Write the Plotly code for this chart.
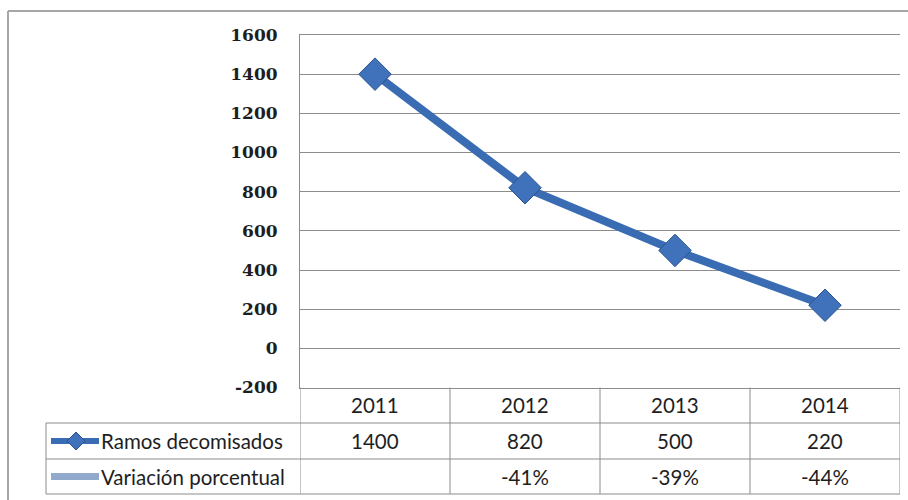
import plotly.graph_objects as go

# ---- data ----
years = ["2011", "2012", "2013", "2014"]
ramos = [1400, 820, 500, 220]
variacion = [None, -41, -39, -44]
series_names = ["Ramos decomisados", "Variación porcentual"]
y_ticks = [-200, 0, 200, 400, 600, 800, 1000, 1200, 1400, 1600]
y_tick_text = [str(v) for v in y_ticks]

W, H = 908, 500
def px(x):
    return x / W
def py(y):
    return 1 - y / H

PLOT_L, PLOT_R, PLOT_T, PLOT_B = 300, 900, 35, 387.5
ROW_Y = [387.5, 423, 459, 494]
TABLE_L = 46
GRID = "#8c8c8c"
LINE_BLUE = "#3a6cb3"
LIGHT_BLUE = "#91a9cc"
TXT = "#1e1e1e"

fig = go.Figure()
fig.add_trace(go.Scatter(
    x=years, y=ramos, mode="lines+markers", name=series_names[0],
    line=dict(color=LINE_BLUE, width=8),
    marker=dict(symbol="diamond", size=25, color="#3f72ba",
                line=dict(color="#2a5290", width=1)),
    showlegend=False, hoverinfo="skip",
))

shapes = []
# outer chart border (top + left)
shapes.append(dict(type="line", xref="paper", yref="paper", x0=px(8), x1=px(908),
                   y0=py(11), y1=py(11), line=dict(color="#a6a6a6", width=2)))
shapes.append(dict(type="line", xref="paper", yref="paper", x0=px(8), x1=px(8),
                   y0=py(11), y1=py(500), line=dict(color="#a6a6a6", width=2)))
# table horizontal lines
for yy in ROW_Y[1:]:
    shapes.append(dict(type="line", xref="paper", yref="paper", x0=px(TABLE_L), x1=px(PLOT_R),
                       y0=py(yy), y1=py(yy), line=dict(color=GRID, width=1)))
# table vertical lines (column boundaries from the category axis)
for k in range(len(years) + 1):
    shapes.append(dict(type="line", xref="x", yref="paper", x0=k - 0.5, x1=k - 0.5,
                       y0=py(ROW_Y[0]), y1=py(ROW_Y[-1]), line=dict(color=GRID, width=1)))
shapes.append(dict(type="line", xref="paper", yref="paper", x0=px(TABLE_L), x1=px(TABLE_L),
                   y0=py(ROW_Y[1]), y1=py(ROW_Y[-1]), line=dict(color=GRID, width=1)))

# legend keys inside the table
ry1 = (ROW_Y[1] + ROW_Y[2]) / 2
ry2 = (ROW_Y[2] + ROW_Y[3]) / 2
shapes.append(dict(type="line", xref="paper", yref="paper", x0=px(51), x1=px(99),
                   y0=py(ry1), y1=py(ry1), line=dict(color=LINE_BLUE, width=6)))
cx, cy, r = 76, ry1, 9
shapes.append(dict(type="path", xref="paper", yref="paper",
                   path=f"M {px(cx - r)} {py(cy)} L {px(cx)} {py(cy - r)} L {px(cx + r)} {py(cy)} L {px(cx)} {py(cy + r)} Z",
                   fillcolor="#3f72ba", line=dict(color="#2a5290", width=1)))
shapes.append(dict(type="line", xref="paper", yref="paper", x0=px(51), x1=px(99),
                   y0=py(ry2), y1=py(ry2), line=dict(color=LIGHT_BLUE, width=7)))

annotations = []
TFONT = dict(family="Lato", size=20.5, color=TXT)
hy = (ROW_Y[0] + ROW_Y[1]) / 2
for i, yr in enumerate(years):
    annotations.append(dict(x=i, xref="x", y=py(hy), yref="paper", text=yr,
                            showarrow=False, font=TFONT, xanchor="center", yanchor="middle"))
    annotations.append(dict(x=i, xref="x", y=py(ry1), yref="paper", text=str(ramos[i]),
                            showarrow=False, font=TFONT, xanchor="center", yanchor="middle"))
    if variacion[i] is not None:
        annotations.append(dict(x=i, xref="x", y=py(ry2), yref="paper", text=f"{variacion[i]}%",
                                showarrow=False, font=TFONT, xanchor="center", yanchor="middle"))
annotations.append(dict(x=px(99), xref="paper", y=py(ry1), yref="paper", text=series_names[0],
                        showarrow=False, font=TFONT, xanchor="left", yanchor="middle"))
annotations.append(dict(x=px(99), xref="paper", y=py(ry2), yref="paper", text=series_names[1],
                        showarrow=False, font=TFONT, xanchor="left", yanchor="middle"))

fig.update_layout(
    width=W, height=H, autosize=False,
    margin=dict(l=0, r=0, t=0, b=0, pad=0, autoexpand=False),
    paper_bgcolor="white", plot_bgcolor="white",
    xaxis=dict(domain=[px(PLOT_L), px(PLOT_R)], type="category", categoryorder="array",
               categoryarray=years, range=[-0.5, 3.5], showticklabels=False, ticks="",
               showgrid=False, zeroline=False, showline=True, mirror=True,
               linecolor=GRID, linewidth=1, automargin=False),
    yaxis=dict(domain=[py(PLOT_B), py(PLOT_T)], range=[-200, 1600],
               tickvals=y_ticks, ticktext=y_tick_text,
               showgrid=True, gridcolor=GRID, gridwidth=1, zeroline=False,
               showline=True, linecolor=GRID, linewidth=1, ticks="",
               ticklabelstandoff=18, automargin=False,
               tickfont=dict(family="DejaVu Serif", size=17, color=TXT, weight="bold")),
    shapes=shapes, annotations=annotations,
    showlegend=False,
)

fig.write_html("out.html")
